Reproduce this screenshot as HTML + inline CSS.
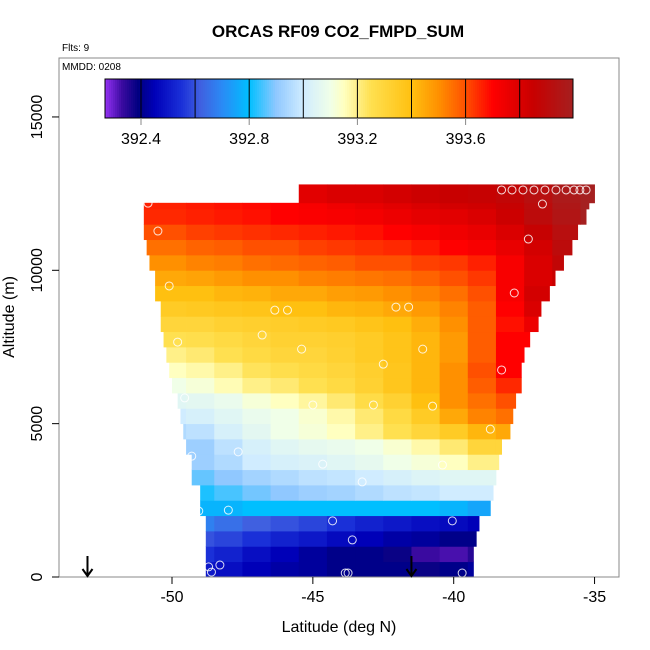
<!DOCTYPE html>
<html><head><meta charset="utf-8"><style>
body{margin:0;background:#fff}
svg{display:block;font-family:"Liberation Sans",Arial,sans-serif}
</style></head><body>
<svg id="chart" width="650" height="650" viewBox="0 0 650 650">
<text x="338" y="37" text-anchor="middle" font-size="17" font-weight="bold">ORCAS RF09 CO2_FMPD_SUM</text>
<text x="62" y="51" font-size="10">Flts: 9</text>
<g id="heat"></g>
<g id="pts"></g>
<rect x="59" y="58" width="560" height="519" fill="none" stroke="#888" stroke-width="1"/>
<text x="62" y="70" font-size="10">MMDD: 0208</text>
<g id="cbar"></g>
<g id="axes"></g>
<text x="339" y="632" text-anchor="middle" font-size="16">Latitude (deg N)</text>
<text transform="translate(14,317) rotate(-90)" text-anchor="middle" font-size="16">Altitude (m)</text>
</svg>
<script>
const lats=[-51,-50,-49,-48,-47,-46,-45,-44,-43,-42,-41,-40,-39,-38,-37,-36,-35];
const rowBottom=[0,500,1000,1500,2000,2500,3000,3500,4000,4500,5000,5500,6000,6500,7000,7500,8000,8500,9000,9500,10000,10500,11000,11500,12000,12200];
const rowTop=[500,1000,1500,2000,2500,3000,3500,4000,4500,5000,5500,6000,6500,7000,7500,8000,8500,9000,9500,10000,10500,11000,11500,12000,12200,12800];
const rowLeft=[-48.8,-48.8,-48.8,-48.8,-49.0,-49.0,-49.3,-49.3,-49.5,-49.6,-49.7,-49.8,-50.0,-50.1,-50.2,-50.3,-50.4,-50.4,-50.6,-50.6,-50.8,-50.9,-51.0,-51.0,-51.0,-45.5];
const rowRight=[-39.3,-39.3,-39.2,-39.1,-38.7,-38.6,-38.5,-38.4,-38.3,-38.0,-37.9,-37.8,-37.6,-37.6,-37.5,-37.3,-37.0,-36.9,-36.6,-36.4,-36.1,-35.8,-35.6,-35.3,-35.2,-35.0];
const co2=[
[392.5,392.5,392.5,392.48,392.45,392.43,392.42,392.4,392.4,392.4,392.38,392.4,392.42,392.4,392.4,392.4,392.4],
[392.55,392.55,392.55,392.52,392.48,392.45,392.42,392.4,392.4,392.38,392.33,392.32,392.35,392.4,392.4,392.4,392.4],
[392.6,392.6,392.6,392.58,392.55,392.52,392.5,392.47,392.45,392.43,392.42,392.4,392.4,392.4,392.4,392.4,392.4],
[392.7,392.7,392.68,392.65,392.62,392.6,392.58,392.55,392.52,392.5,392.48,392.47,392.45,392.45,392.45,392.45,392.45],
[392.78,392.78,392.78,392.78,392.8,392.8,392.8,392.8,392.8,392.8,392.8,392.78,392.75,392.75,392.75,392.75,392.75],
[392.8,392.8,392.82,392.85,392.88,392.9,392.92,392.93,392.95,392.97,392.98,393.0,393.0,393.0,393.0,393.0,393.0],
[392.85,392.85,392.87,392.9,392.93,392.95,392.97,392.98,393.0,393.02,393.04,393.05,393.05,393.05,393.05,393.05,393.05],
[392.9,392.9,392.92,392.95,393.0,393.02,393.03,393.05,393.07,393.1,393.12,393.15,393.2,393.2,393.2,393.2,393.2],
[392.9,392.9,392.92,392.97,393.02,393.05,393.07,393.08,393.1,393.13,393.17,393.22,393.3,393.3,393.3,393.3,393.3],
[392.95,392.95,392.97,393.02,393.06,393.1,393.12,393.15,393.2,393.25,393.3,393.35,393.42,393.45,393.45,393.45,393.45],
[393.0,393.0,393.02,393.05,393.08,393.1,393.13,393.17,393.22,393.28,393.35,393.45,393.52,393.55,393.55,393.55,393.55],
[393.05,393.05,393.06,393.08,393.12,393.15,393.18,393.22,393.27,393.32,393.4,393.5,393.55,393.6,393.6,393.6,393.6],
[393.1,393.1,393.12,393.16,393.2,393.22,393.25,393.28,393.32,393.37,393.42,393.5,393.58,393.65,393.65,393.65,393.65],
[393.15,393.15,393.17,393.2,393.24,393.26,393.28,393.3,393.33,393.37,393.42,393.5,393.6,393.7,393.7,393.7,393.7],
[393.2,393.2,393.22,393.25,393.28,393.3,393.3,393.32,393.35,393.38,393.42,393.48,393.58,393.7,393.7,393.7,393.7],
[393.25,393.25,393.26,393.28,393.3,393.32,393.32,393.33,393.35,393.38,393.42,393.48,393.58,393.7,393.7,393.7,393.7],
[393.3,393.3,393.3,393.32,393.33,393.34,393.35,393.36,393.38,393.4,393.44,393.5,393.58,393.68,393.75,393.75,393.75],
[393.35,393.35,393.36,393.37,393.38,393.4,393.4,393.42,393.43,393.45,393.48,393.52,393.58,393.7,393.8,393.8,393.8],
[393.4,393.4,393.4,393.42,393.43,393.45,393.45,393.47,393.48,393.5,393.52,393.55,393.6,393.72,393.82,393.85,393.85],
[393.45,393.45,393.46,393.48,393.5,393.5,393.52,393.53,393.54,393.55,393.57,393.6,393.63,393.72,393.8,393.85,393.85],
[393.5,393.5,393.52,393.53,393.55,393.56,393.57,393.58,393.6,393.6,393.62,393.63,393.66,393.72,393.8,393.88,393.88],
[393.55,393.55,393.57,393.58,393.6,393.6,393.62,393.63,393.64,393.65,393.67,393.7,393.72,393.76,393.82,393.9,393.9],
[393.6,393.6,393.62,393.63,393.64,393.65,393.66,393.67,393.68,393.7,393.72,393.74,393.76,393.8,393.86,393.92,393.95],
[393.65,393.65,393.66,393.67,393.68,393.7,393.71,393.72,393.73,393.75,393.77,393.78,393.8,393.84,393.9,393.95,394.0],
[393.66,393.66,393.67,393.68,393.69,393.7,393.72,393.74,393.76,393.78,393.8,393.82,393.83,393.86,393.9,393.96,394.0],
[393.7,393.7,393.7,393.72,393.74,393.76,393.78,393.8,393.8,393.82,393.84,393.85,393.86,393.88,393.92,393.97,394.0]
];
const ptLat=[-50.85,-50.5,-50.1,-49.8,-49.55,-49.3,-49.05,-48.7,-48.6,-48.3,-48.0,-47.65,-46.8,-46.35,-45.9,-45.4,-45.0,-44.65,-44.3,-43.85,-43.75,-43.6,-43.25,-42.85,-42.5,-42.05,-41.6,-41.1,-40.75,-40.4,-40.05,-39.7,-38.7,-38.3,-37.85,-37.35,-36.85,-38.3,-37.93,-37.54,-37.15,-36.76,-36.37,-36.01,-35.73,-35.52,-35.3];
const ptAlt=[12190,11280,9490,7660,5840,3940,2150,330,160,390,2180,4080,7890,8700,8700,7430,5610,3680,1830,130,130,1210,3100,5610,6940,8800,8800,7430,5570,3650,1830,130,4820,6750,9260,11020,12160,12620,12620,12620,12620,12620,12620,12620,12620,12620,12620];
const cbTicks=[392.4,392.8,393.2,393.6];
const xTicks=[-50,-45,-40,-35];
const yTicks=[0,5000,10000,15000];
const arrowLat=[-53.0,-41.5];

const NS='http://www.w3.org/2000/svg';
const X=v=>172+(v+50)*28.17;
const Y=v=>577-v*0.03067;
const CB=v=>141+(v-392.4)*270.5;
const stops=[[392.27,'#9030f0'],[392.33,'#3a0aa0'],[392.39,'#000080'],[392.45,'#0000b8'],[392.55,'#1a30d8'],[392.62,'#4060e0'],[392.7,'#2a8af5'],[392.8,'#00bfff'],[392.9,'#90c8ff'],[393.0,'#d0ecff'],[393.1,'#f0ffe8'],[393.15,'#ffffc0'],[393.25,'#ffe050'],[393.4,'#ffc010'],[393.5,'#ff9000'],[393.6,'#ff5000'],[393.7,'#ff0000'],[393.85,'#c80000'],[394.0,'#a52020']];
function hex(h){return [1,3,5].map(i=>parseInt(h.substr(i,2),16));}
function color(v){
  if(v<=stops[0][0])return stops[0][1];
  for(let i=1;i<stops.length;i++){if(v<=stops[i][0]){const a=hex(stops[i-1][1]),b=hex(stops[i][1]);const t=(v-stops[i-1][0])/(stops[i][0]-stops[i-1][0]);return 'rgb('+a.map((c,k)=>Math.round(c+(b[k]-c)*t)).join(',')+')';}}
  return stops[stops.length-1][1];
}
function mk(tag,attrs,parent){const e=document.createElementNS(NS,tag);for(const k in attrs)e.setAttribute(k,attrs[k]);parent.appendChild(e);return e;}
const heat=document.getElementById('heat');
co2.forEach((row,r)=>{
  row.forEach((v,c)=>{
    const l=Math.max(lats[c]-0.5,rowLeft[r]),rr=Math.min(lats[c]+0.5,rowRight[r]);
    if(rr<=l)return;
    const e=mk('rect',{x:X(l),y:Y(rowTop[r]),width:X(rr)-X(l)+0.4,height:Y(rowBottom[r])-Y(rowTop[r])+0.4,fill:color(v)},heat);
    
    
  });
});
const pts=document.getElementById('pts');
ptLat.forEach((la,i)=>{
  const e=mk('circle',{cx:X(la),cy:Y(ptAlt[i]),r:4,fill:'none',stroke:'#fff','stroke-width':1,opacity:0.85},pts);
  
  
});
const cb=document.getElementById('cbar');
for(let x=105;x<573;x+=2){
  const v=392.4+(x+1-141)/270.5;
  const e=mk('rect',{x:x,y:79,width:2.3,height:39,fill:color(v)},cb);
  
  
}
const cbBox=mk('rect',{x:105,y:79,width:468,height:39,fill:'none',stroke:'#000','stroke-width':1},cb);


for(let v=392.4;v<393.95;v+=0.2){
  const e=mk('line',{x1:CB(v),x2:CB(v),y1:79,y2:118,stroke:'#000','stroke-width':1},cb);
  
  
}
cbTicks.forEach(v=>{
  const t=mk('line',{x1:CB(v),x2:CB(v),y1:118,y2:125,stroke:'#888'},cb);
  
  
  const e=mk('text',{x:CB(v),y:144,'text-anchor':'middle','font-size':16},cb);
  e.textContent=v.toFixed(1);
  
  
});
const ax=document.getElementById('axes');
xTicks.forEach(v=>{
  const t=mk('line',{x1:X(v),x2:X(v),y1:577,y2:584,stroke:'#000'},ax);
  
  
  const e=mk('text',{x:X(v),y:602,'text-anchor':'middle','font-size':16},ax);
  e.textContent=v;
  
  
});
yTicks.forEach(v=>{
  const t=mk('line',{x1:52,x2:59,y1:Y(v),y2:Y(v),stroke:'#000'},ax);
  
  
  const e=mk('text',{transform:'translate(42,'+Y(v)+') rotate(-90)','text-anchor':'middle','font-size':16},ax);
  e.textContent=v;
  
  
});
arrowLat.forEach(la=>{
  const x=X(la);
  const e=mk('path',{d:'M'+x+' 556 L'+x+' 576 M'+(x-5)+' 569 L'+x+' 576 L'+(x+5)+' 569',stroke:'#000','stroke-width':2,fill:'none'},ax);
  
  
});
</script>
</body></html>
